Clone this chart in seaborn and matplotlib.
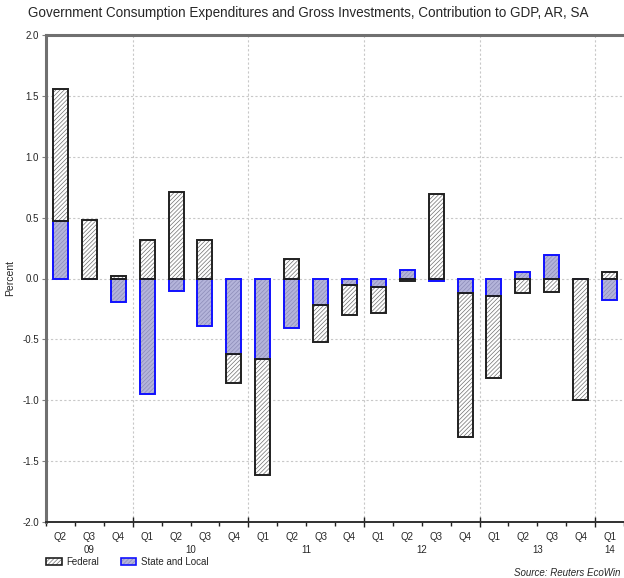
import matplotlib
matplotlib.use("Agg")
import matplotlib.pyplot as plt
import matplotlib.transforms as mtransforms
from matplotlib.patches import Patch
from matplotlib.legend_handler import HandlerTuple
import seaborn as sns
import pandas as pd
import numpy as np

periods = ["2009Q2", "2009Q3", "2009Q4", "2010Q1", "2010Q2", "2010Q3", "2010Q4",
           "2011Q1", "2011Q2", "2011Q3", "2011Q4", "2012Q1", "2012Q2", "2012Q3",
           "2012Q4", "2013Q1", "2013Q2", "2013Q3", "2013Q4", "2014Q1"]
quarter_labels = ["Q2", "Q3", "Q4", "Q1", "Q2", "Q3", "Q4", "Q1", "Q2", "Q3", "Q4",
                  "Q1", "Q2", "Q3", "Q4", "Q1", "Q2", "Q3", "Q4", "Q1"]
year_labels = ["09", "10", "11", "12", "13", "14"]
year_centers = [1.0, 4.5, 8.5, 12.5, 16.5, 19.0]
federal = [1.09, 0.48, 0.02, 0.32, 0.71, 0.32, -0.24, -0.95, 0.16, -0.30, -0.25,
           -0.21, -0.02, 0.69, -1.18, -0.68, -0.12, -0.11, -1.00, 0.05]
state_local = [0.47, 0.00, -0.19, -0.95, -0.10, -0.39, -0.62, -0.66, -0.41, -0.22,
               -0.05, -0.07, 0.07, -0.02, -0.12, -0.14, 0.05, 0.19, 0.00, -0.18]

sns.set_style("white")
plt.rcParams["font.family"] = ["Liberation Sans", "DejaVu Sans"]
plt.rcParams["axes.unicode_minus"] = False
plt.rcParams["hatch.linewidth"] = 0.5

fig = plt.figure(figsize=(6.24, 5.78), dpi=100)
ax = fig.add_axes([46 / 624, 56 / 578, 578 / 624, 487 / 578])

df = pd.DataFrame({"period": periods, "federal": federal, "sl": state_local})
sl = np.array(state_local)
fed = np.array(federal)
# stacking: state & local from zero, federal on top of same-sign state & local
fed_bottom = np.where(np.sign(fed) == np.sign(sl), sl, 0.0)

W = 0.52
HATCH = "////////"
FED_HATCH = "#707070"
SL_FACE = "#b4b4da"
SL_HATCH = "#8c8cb8"


def draw(col, face, hatch_col, edge, bottoms):
    n0 = len(ax.patches)
    sns.barplot(data=df, x="period", y=col, order=periods, color=face,
                saturation=1, width=W, edgecolor=hatch_col, hatch=HATCH,
                linewidth=0, ax=ax, zorder=2)
    fills = ax.patches[n0:]
    n1 = len(ax.patches)
    sns.barplot(data=df, x="period", y=col, order=periods, color=face,
                saturation=1, width=W, fill=False, edgecolor=edge,
                linewidth=1.4, ax=ax, zorder=3)
    outlines = ax.patches[n1:]
    for p, b in zip(fills, bottoms):
        p.set_y(p.get_y() + b)
    for p, b in zip(outlines, bottoms):
        p.set_y(p.get_y() + b)


draw("sl", SL_FACE, SL_HATCH, "#1010ff", np.zeros(len(sl)))
draw("federal", "white", FED_HATCH, "#202020", fed_bottom)

ax.set_xlim(-0.5, 19.45)
ax.set_ylim(-2.0, 2.0)
ax.set_yticks(np.arange(-2.0, 2.01, 0.5))
ax.set_yticklabels([f"{v:.1f}" for v in np.arange(-2.0, 2.01, 0.5)], fontsize=7)
ax.set_xlabel("")
ax.set_ylabel("Percent", fontsize=7.5)
ax.yaxis.set_label_coords(-(46 - 15) / 578, 0.5)

year_bounds = [2.5, 6.5, 10.5, 14.5, 18.5]
ax.set_xticks(year_bounds)
ax.set_xticklabels([""] * len(year_bounds))
ax.set_xticks(np.arange(-0.5, 19.6, 1.0), minor=True)
ax.tick_params(axis="x", which="major", direction="inout", length=7, width=1.0,
               color="#202020", bottom=True)
ax.tick_params(axis="x", which="minor", direction="out", length=3, width=1.0,
               color="#202020", bottom=True)
ax.tick_params(axis="y", which="major", direction="out", length=3, width=0.8,
               color="#808080", left=True, pad=2)

ax.grid(True, which="major", axis="both", linestyle=(0, (2, 2)), color="#c8c8c8",
        linewidth=0.8)
ax.set_axisbelow(True)

for s in ["left", "top"]:
    ax.spines[s].set_color("#707070")
    ax.spines[s].set_linewidth(2.2)
ax.spines["bottom"].set_color("#303030")
ax.spines["bottom"].set_linewidth(1.4)
ax.spines["right"].set_visible(False)

trans = mtransforms.blended_transform_factory(ax.transData, fig.transFigure)
for i, q in enumerate(quarter_labels):
    ax.text(i, 1 - 537 / 578, q, transform=trans, ha="center", va="center",
            fontsize=7)
for c, y in zip(year_centers, year_labels):
    ax.text(c, 1 - 550 / 578, y, transform=trans, ha="center", va="center",
            fontsize=7)

fig.text(28 / 624, 1 - 13 / 578,
         "Government Consumption Expenditures and Gross Investments, Contribution to GDP, AR, SA",
         fontsize=9.75, ha="left", va="center")

fed_handle = (Patch(facecolor="white", edgecolor=FED_HATCH, hatch=HATCH, linewidth=0),
              Patch(facecolor="none", edgecolor="#202020", linewidth=1.2))
sl_handle = (Patch(facecolor=SL_FACE, edgecolor=SL_HATCH, hatch=HATCH, linewidth=0),
             Patch(facecolor="none", edgecolor="#1010ff", linewidth=1.2))
fig.legend([fed_handle, sl_handle], ["Federal", "State and Local"],
           handler_map={tuple: HandlerTuple(ndivide=1, pad=0)},
           loc="center left", bbox_to_anchor=(46 / 624, 1 - 562 / 578),
           ncol=2, frameon=False, fontsize=7, handlelength=1.6, handleheight=0.8,
           handletextpad=0.5, columnspacing=2.2, borderpad=0, borderaxespad=0)

fig.text(620 / 624, 1 - 573 / 578, "Source: Reuters EcoWin", fontsize=7,
         style="italic", ha="right", va="center")

fig.savefig("out.png", dpi=100)
